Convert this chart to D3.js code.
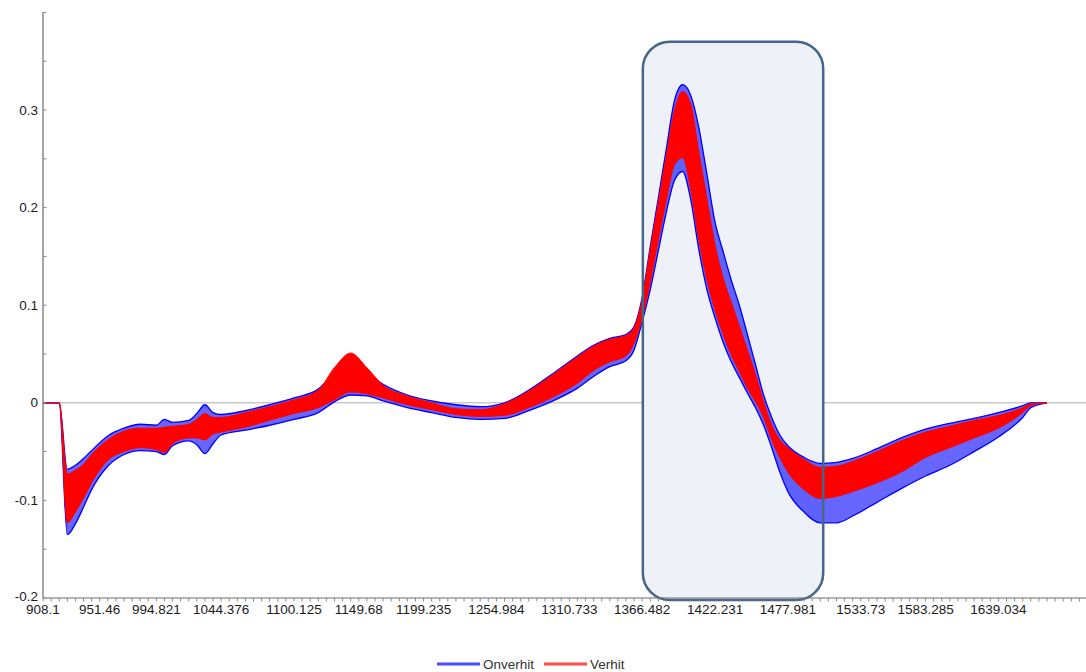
<!DOCTYPE html>
<html><head><meta charset="utf-8">
<script src="https://cdn.jsdelivr.net/npm/d3@7"></script>
<style>
body{margin:0;background:#fff;}
svg{display:block;font-family:Arial,"Liberation Sans",sans-serif;}
</style>
</head><body>
<svg id="chart" width="1086" height="672"></svg>
<script>
// ---- data ----
const wavelengths = [908.1, 920.488, 926.683, 932.877, 939.072, 945.266, 957.655, 970.044, 982.432, 994.821,
  1001.015, 1007.21, 1019.598, 1025.793, 1031.987, 1038.182, 1044.376, 1062.959, 1081.542, 1100.125,
  1118.708, 1131.097, 1143.486, 1155.874, 1168.263, 1186.846, 1205.429, 1224.012, 1242.595, 1261.178,
  1279.761, 1298.344, 1316.927, 1329.316, 1341.705, 1354.093, 1360.288, 1366.482, 1372.677, 1378.871,
  1385.066, 1391.26, 1397.455, 1403.649, 1409.844, 1416.038, 1422.231, 1428.427, 1434.621, 1440.816,
  1447.01, 1453.205, 1459.399, 1465.594, 1471.788, 1477.981, 1490.371, 1502.76, 1515.149, 1527.537,
  1546.12, 1564.703, 1583.285, 1601.869, 1620.452, 1639.034, 1657.617, 1663.811, 1676.2];

// Verhit (red) envelope: upper and lower values of the bundle of spectra
const verhitMax = [0, 0, -0.073, -0.069, -0.063, -0.053, -0.038, -0.029, -0.026, -0.026,
  -0.025, -0.024, -0.022, -0.017, -0.011, -0.015, -0.015, -0.010, -0.004, 0.003,
  0.013, 0.036, 0.051, 0.036, 0.018, 0.007, 0.000, -0.006, -0.007, -0.001,
  0.012, 0.029, 0.047, 0.058, 0.065, 0.069, 0.077, 0.106, 0.157, 0.205,
  0.254, 0.300, 0.319, 0.306, 0.257, 0.209, 0.162, 0.128, 0.103, 0.079,
  0.054, 0.029, 0.001, -0.023, -0.038, -0.046, -0.058, -0.066, -0.065, -0.060,
  -0.050, -0.039, -0.030, -0.024, -0.018, -0.013, -0.005, -0.001, 0];
const verhitMin = [0, 0, -0.123, -0.112, -0.098, -0.082, -0.059, -0.050, -0.046, -0.048,
  -0.051, -0.042, -0.036, -0.036, -0.038, -0.032, -0.030, -0.025, -0.018, -0.011,
  -0.005, 0.003, 0.011, 0.009, 0.005, -0.002, -0.007, -0.012, -0.014, -0.013,
  -0.005, 0.006, 0.020, 0.033, 0.042, 0.048, 0.061, 0.087, 0.124, 0.167,
  0.208, 0.244, 0.251, 0.218, 0.167, 0.126, 0.095, 0.070, 0.049, 0.032,
  0.015, 0.001, -0.015, -0.038, -0.056, -0.071, -0.089, -0.098, -0.096, -0.091,
  -0.082, -0.071, -0.056, -0.046, -0.036, -0.026, -0.010, -0.003, 0];

// Onverhit (blue) envelope
const onverhitMax = [0, 0, -0.068, -0.064, -0.057, -0.049, -0.034, -0.026, -0.022, -0.023,
  -0.017, -0.020, -0.018, -0.011, -0.002, -0.010, -0.012, -0.008, -0.002, 0.005,
  0.014, 0.030, 0.040, 0.030, 0.019, 0.008, 0.002, -0.002, -0.004, 0.000,
  0.013, 0.030, 0.048, 0.059, 0.066, 0.070, 0.078, 0.108, 0.160, 0.210,
  0.261, 0.310, 0.326, 0.315, 0.282, 0.234, 0.185, 0.155, 0.126, 0.100,
  0.070, 0.039, 0.008, -0.015, -0.033, -0.044, -0.056, -0.062, -0.061, -0.057,
  -0.047, -0.036, -0.027, -0.021, -0.016, -0.010, -0.003, 0, 0];
const onverhitMin = [0, 0, -0.135, -0.124, -0.107, -0.089, -0.065, -0.053, -0.049, -0.050,
  -0.053, -0.044, -0.039, -0.043, -0.052, -0.042, -0.033, -0.028, -0.023, -0.017,
  -0.010, 0.001, 0.008, 0.007, 0.002, -0.005, -0.010, -0.015, -0.017, -0.016,
  -0.008, 0.002, 0.015, 0.027, 0.037, 0.043, 0.054, 0.083, 0.116, 0.156,
  0.196, 0.228, 0.237, 0.208, 0.157, 0.116, 0.087, 0.062, 0.042, 0.026,
  0.010, -0.005, -0.023, -0.046, -0.071, -0.091, -0.112, -0.123, -0.123, -0.116,
  -0.102, -0.088, -0.075, -0.064, -0.050, -0.035, -0.015, -0.005, 0];

const xTickLabels = ["908.1", "951.46", "994.821", "1044.376", "1100.125", "1149.68", "1199.235",
  "1254.984", "1310.733", "1366.482", "1422.231", "1477.981", "1533.73", "1583.285", "1639.034"];
const yTickValues = [-0.2, -0.1, 0, 0.1, 0.2, 0.3];
const yTickLabels = ["-0.2", "-0.1", "0", "0.1", "0.2", "0.3"];
const seriesNames = ["Onverhit", "Verhit"];
const highlightWavelengths = [1367, 1505];
const highlightValues = [-0.202, 0.37];
const wavelengthCount = 125;

// ---- drawing ----
const W = 1086, H = 672;
const svg = d3.select("#chart");
const x = d3.scaleLinear().domain([908.1, 1676.2]).range([43, 1047]);
const y = d3.scaleLinear().domain([-0.2, 0.4]).range([598, 12.4]);

// zero line
svg.append("line").attr("x1", 43).attr("x2", W).attr("y1", y(0)).attr("y2", y(0))
  .attr("stroke", "#c9c9c9").attr("stroke-width", 1.5);

// highlight box fill (behind curves)
const bx0 = x(highlightWavelengths[0]), bx1 = x(highlightWavelengths[1]);
const by0 = y(highlightValues[1]), by1 = y(highlightValues[0]);
svg.append("rect").attr("x", bx0).attr("y", by0).attr("width", bx1 - bx0).attr("height", by1 - by0)
  .attr("rx", 27).attr("ry", 27).attr("fill", "#eef2f8");

const idx = d3.range(wavelengths.length);
function band(lo, hi) {
  return d3.area().curve(d3.curveMonotoneX)
    .x(i => x(wavelengths[i])).y0(i => y(lo[i])).y1(i => y(hi[i]))(idx);
}
function edge(arr) {
  return d3.line().curve(d3.curveMonotoneX)
    .x(i => x(wavelengths[i])).y(i => y(arr[i]))(idx);
}

// Onverhit (blue)
svg.append("path").attr("d", band(onverhitMin, onverhitMax)).attr("fill", "#0000ff").attr("fill-opacity", 0.6);
[onverhitMin, onverhitMax].forEach(a => svg.append("path").attr("d", edge(a))
  .attr("fill", "none").attr("stroke", "#0000ff").attr("stroke-width", 1.3));

// Verhit (red)
svg.append("path").attr("d", band(verhitMin, verhitMax)).attr("fill", "#ff0000");
[verhitMin, verhitMax].forEach(a => svg.append("path").attr("d", edge(a))
  .attr("fill", "none").attr("stroke", "#ff0000").attr("stroke-width", 1));

// highlight box border (on top)
svg.append("rect").attr("x", bx0).attr("y", by0).attr("width", bx1 - bx0).attr("height", by1 - by0)
  .attr("rx", 27).attr("ry", 27).attr("fill", "none").attr("stroke", "#46658a").attr("stroke-width", 2.5);

// axes
const axisColor = "#6b6b6b";
svg.append("line").attr("x1", 43).attr("x2", 43).attr("y1", 12).attr("y2", 598)
  .attr("stroke", axisColor).attr("stroke-width", 1.2);
svg.append("line").attr("x1", 43).attr("x2", W).attr("y1", 598).attr("y2", 598)
  .attr("stroke", axisColor).attr("stroke-width", 1.2);

// x ticks: one per wavelength channel
const step = (1676.2 - 908.1) / (wavelengthCount - 1);
svg.append("g").selectAll("line").data(d3.range(wavelengthCount + 4)).join("line")
  .attr("x1", i => x(908.1 + i * step)).attr("x2", i => x(908.1 + i * step))
  .attr("y1", 598).attr("y2", 601.5).attr("stroke", "#8a8a8a").attr("stroke-width", 1);

svg.append("g").selectAll("text").data(xTickLabels).join("text")
  .attr("x", d => x(+d)).attr("y", 614).attr("text-anchor", "middle")
  .attr("font-size", 13.5).attr("fill", "#1a1a1a").text(d => d);

// y ticks
const yMinor = d3.range(-4, 9).map(i => i * 0.05);
svg.append("g").selectAll("line").data(yMinor).join("line")
  .attr("x1", 43).attr("x2", 46.5).attr("y1", d => y(d)).attr("y2", d => y(d))
  .attr("stroke", "#8a8a8a").attr("stroke-width", 1);
svg.append("g").selectAll("text").data(yTickValues).join("text")
  .attr("x", 38).attr("y", d => y(d) + (d === -0.2 ? 3 : 4.5)).attr("text-anchor", "end")
  .attr("font-size", 13.5).attr("fill", "#1a1a1a").text((d, i) => yTickLabels[i]);

// legend
const legendColors = ["#4a4aff", "#ff4a4a"];
const lg = svg.append("g").attr("transform", "translate(437,664)");
let lx = 0;
seriesNames.forEach((name, i) => {
  lg.append("line").attr("x1", lx).attr("x2", lx + 43).attr("y1", 0).attr("y2", 0)
    .attr("stroke", legendColors[i]).attr("stroke-width", 3);
  const t = lg.append("text").attr("x", lx + 46).attr("y", 5).attr("font-size", 13.5)
    .attr("fill", "#333").text(name);
  lx += 46 + t.node().getComputedTextLength() + 10;
});
</script>
</body></html>
